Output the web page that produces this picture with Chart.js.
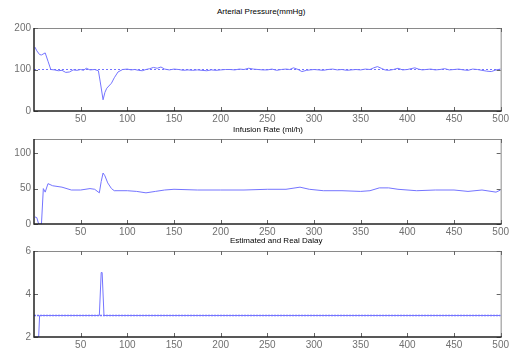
<!DOCTYPE html>
<html>
<head>
<meta charset="utf-8">
<script src="https://cdn.jsdelivr.net/npm/chart.js@4.4.1/dist/chart.umd.min.js"></script>
<style>
  body { margin:0; background:#fff; width:511px; height:352px; overflow:hidden; position:relative; }
  canvas { position:absolute; left:0; }
  .ttl { position:absolute; font:8px "Liberation Sans", Arial, sans-serif; color:#000; white-space:nowrap; z-index:2; }
</style>
</head>
<body>
<div class="ttl" style="left:217px;top:7px">Arterial Pressure(mmHg)</div>
<div class="ttl" style="left:233px;top:125px">Infusion Rate (ml/h)</div>
<div class="ttl" style="left:230px;top:236px">Estimated and Real Dalay</div>
<canvas id="c1" width="511" height="103" style="top:22px"></canvas>
<canvas id="c2" width="511" height="105" style="top:133px"></canvas>
<canvas id="c3" width="511" height="106" style="top:245px"></canvas>
<script>
// x ticks, shared by all three plots
var xTicks = [50, 100, 150, 200, 250, 300, 350, 400, 450, 500];

// arterial pressure (mmHg)
var pressX = [1, 3, 6, 8, 12, 15, 18, 22, 26, 30, 34, 38, 42, 46, 50, 53, 56, 60, 65, 69, 71, 74, 76, 78, 83, 86, 90, 95,
  100, 104, 108, 112, 116, 120, 124, 128, 132, 136, 140, 145, 150, 155, 160, 165, 170, 175, 180, 185, 190, 195,
  200, 205, 210, 215, 220, 225, 230, 235, 240, 245, 250, 255, 260, 265, 270, 274, 278, 283, 287, 292, 296, 300,
  305, 310, 315, 320, 325, 330, 335, 340, 345, 350, 355, 360, 364, 368, 372, 376, 380, 385, 390, 395, 400, 404,
  408, 412, 416, 420, 425, 430, 435, 440, 445, 450, 455, 460, 465, 470, 475, 480, 485, 490, 495, 500];
var pressY = [154, 145, 136, 135, 140, 120, 100, 99, 97, 98, 93, 94, 99, 98, 100, 98, 103, 99, 100, 97, 70, 27, 45, 55, 67, 80, 94, 100,
  101, 99, 100, 98, 97, 100, 102, 105, 103, 106, 101, 99, 101, 100, 98, 99, 98, 99, 98, 97, 99, 98,
  99, 100, 100, 99, 101, 100, 103, 101, 100, 99, 99, 101, 98, 100, 101, 100, 104, 100, 95, 98, 99, 100,
  99, 98, 100, 101, 99, 100, 98, 99, 100, 99, 101, 100, 104, 107, 103, 99, 98, 100, 103, 99, 100, 102,
  104, 101, 99, 100, 101, 99, 100, 102, 99, 100, 101, 99, 98, 101, 100, 98, 96, 95, 99, 101];
var pressRefY = 100;

// infusion rate (ml/h)
var infX = [1, 3, 5, 8, 10, 12, 15, 20, 30, 40, 50, 60, 65, 70, 72, 74, 76, 79, 83, 86, 90, 100, 110, 120, 130, 140,
  150, 175, 200, 225, 250, 270, 285, 295, 310, 330, 350, 360, 370, 380, 390, 410, 430, 450, 465, 480, 495, 500];
var infY = [10, 9, 0, 0, 50, 45, 57, 54, 52, 48, 48, 50, 49, 44, 60, 72, 68, 58, 50, 47, 47, 47, 46, 44, 46, 48,
  49, 48, 48, 48, 49, 49, 52, 49, 47, 47, 46, 47, 51, 51, 49, 47, 48, 48, 46, 48, 45, 48];

// estimated delay and real delay
var estX = [1, 5, 6, 70, 72, 73, 75, 500];
var estY = [2, 2, 3, 3, 5, 5, 3, 3];
var realY = 3;

var pressTicks = [0, 100, 200];
var infTicks = [0, 50, 100];
var delayTicks = [2, 4, 6];

function toPts(xs, ys) { return xs.map(function (x, i) { return { x: x, y: ys[i] }; }); }
function flat(v) { return [{ x: 0, y: v }, { x: 500, y: v }]; }

var lineBlue = '#7474ff';

// matlab style box with inward ticks
var boxPlugin = {
  id: 'mbox',
  afterDraw: function (chart) {
    var ctx = chart.ctx, a = chart.chartArea, sx = chart.scales.x, sy = chart.scales.y;
    ctx.save();
    ctx.lineWidth = 1;
    ctx.strokeStyle = '#8a8a8a';
    ctx.beginPath();
    ctx.moveTo(a.left, a.top + 0.5); ctx.lineTo(a.right + 0.5, a.top + 0.5); ctx.lineTo(a.right + 0.5, a.bottom);
    ctx.stroke();
    ctx.strokeStyle = '#666';
    sx.ticks.forEach(function (t) {
      var p = Math.round(sx.getPixelForValue(t.value)) + 0.5;
      ctx.beginPath();
      ctx.moveTo(p, a.bottom); ctx.lineTo(p, a.bottom - 4);
      ctx.moveTo(p, a.top); ctx.lineTo(p, a.top + 4);
      ctx.stroke();
    });
    sy.ticks.forEach(function (t) {
      var p = Math.round(sy.getPixelForValue(t.value)) + 0.5;
      ctx.beginPath();
      ctx.moveTo(a.left, p); ctx.lineTo(a.left + 4, p);
      ctx.moveTo(a.right, p); ctx.lineTo(a.right - 4, p);
      ctx.stroke();
    });
    ctx.lineWidth = 1.5;
    ctx.strokeStyle = '#222';
    ctx.beginPath();
    ctx.moveTo(a.left, a.top); ctx.lineTo(a.left, a.bottom); ctx.lineTo(a.right + 1, a.bottom);
    ctx.stroke();
    ctx.restore();
  }
};

function makeChart(id, datasets, yMin, yMax, yTicks) {
  return new Chart(document.getElementById(id), {
    type: 'line',
    data: { datasets: datasets },
    options: {
      responsive: false,
      maintainAspectRatio: false,
      animation: false,
      layout: { padding: { top: 6, right: 9, left: 0, bottom: 0 } },
      plugins: { legend: { display: false }, tooltip: { enabled: false } },
      elements: { point: { radius: 0 }, line: { tension: 0, borderWidth: 1 } },
      scales: {
        x: {
          type: 'linear', min: 0, max: 500,
          grid: { display: false, drawTicks: false }, border: { display: false },
          afterBuildTicks: function (s) { s.ticks = xTicks.map(function (v) { return { value: v }; }); },
          afterFit: function (s) { s.height = 15; },
          ticks: { padding: 2, color: '#707070', font: { family: 'Liberation Sans', size: 10 }, maxRotation: 0, autoSkip: false }
        },
        y: {
          type: 'linear', min: yMin, max: yMax,
          grid: { display: false, drawTicks: false }, border: { display: false },
          afterBuildTicks: function (s) { s.ticks = yTicks.map(function (v) { return { value: v }; }); },
          afterFit: function (s) { s.width = 34; },
          ticks: { padding: 3, color: '#707070', font: { family: 'Liberation Sans', size: 10 } }
        }
      }
    },
    plugins: [boxPlugin]
  });
}

// move / size each canvas so the plot box lands where it is in the picture
function place(chart, top, bottom) {
  var a = chart.chartArea;
  var extra = chart.height - (a.bottom - a.top);
  chart.resize(511, Math.round(bottom - top + extra));
  chart.update('none');
  a = chart.chartArea;
  chart.canvas.style.top = Math.round(top - a.top) + 'px';
}

var ch1 = makeChart('c1', [
  { data: flat(pressRefY), borderColor: lineBlue, borderDash: [2, 2], borderWidth: 1 },
  { data: toPts(pressX, pressY), borderColor: lineBlue }
], 0, 200, pressTicks);

var ch2 = makeChart('c2', [
  { data: toPts(infX, infY), borderColor: lineBlue }
], 0, 120, infTicks);

var ch3 = makeChart('c3', [
  { data: flat(realY), borderColor: lineBlue, borderDash: [2, 1], borderWidth: 1.5 },
  { data: toPts(estX, estY), borderColor: lineBlue }
], 2, 6, delayTicks);

place(ch1, 28, 111);
place(ch2, 139, 224);
place(ch3, 251, 337);
</script>
</body>
</html>
